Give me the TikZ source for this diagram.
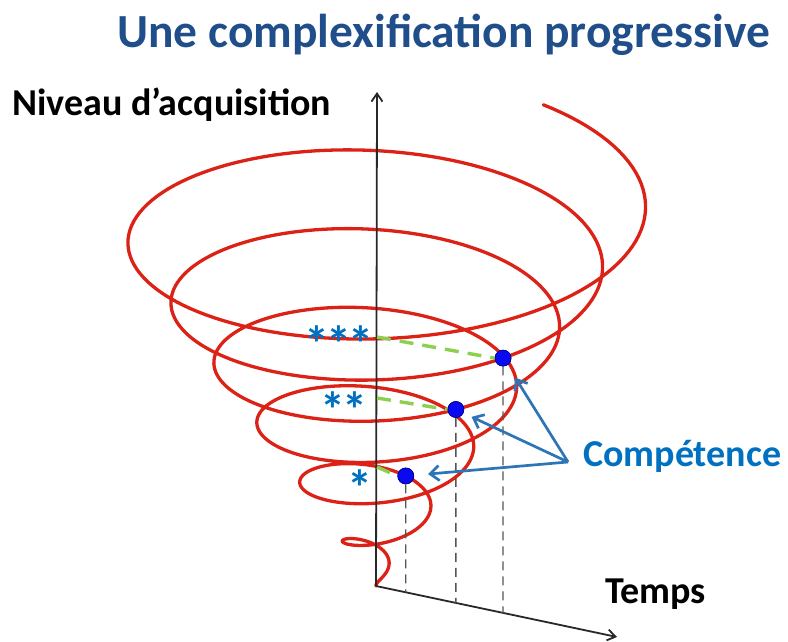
\documentclass[tikz,border=0pt]{standalone}
\usepackage{fontspec}
\setmainfont{Carlito}
\usetikzlibrary{arrows.meta,calc}
\definecolor{titleblue}{RGB}{31,78,138}
\definecolor{compblue}{RGB}{0,112,192}
\definecolor{arrowblue}{RGB}{46,117,182}
\definecolor{spiralred}{RGB}{220,34,22}
\definecolor{dashgreen}{RGB}{140,208,80}
\definecolor{dotblue}{RGB}{10,10,240}
\definecolor{axisgray}{RGB}{40,40,40}
\definecolor{guidegray}{RGB}{85,85,85}
\begin{document}
\begin{tikzpicture}[x=1pt,y=-1pt,
  declare function={RA(\u)=248+43*\u; RH(\u)=240-60*\u;
    SX(\u)=376+RA(\u)*cos(360*\u+180);
    SY(\u)=RH(\u)-0.44*RA(\u)*sin(360*\u+180);},
  spiral/.style={draw=spiralred,line width=3.3pt,line join=round,line cap=round},
  axisline/.style={draw=axisgray,line width=1.8pt,-{Straight Barb[length=8pt,width=11pt,line width=1.8pt]}},
  guide/.style={draw=guidegray,line width=1.4pt,dash pattern=on 9pt off 6pt},
  levelline/.style={draw=dashgreen,line width=3.4pt,dash pattern=on 14pt off 9pt},
  compdot/.style={circle,fill=dotblue,draw=blue!55!black,line width=0.6pt,minimum size=16pt,inner sep=0pt},
  comparrow/.style={draw=arrowblue,line width=2.7pt,-{Straight Barb[length=9pt,width=15pt,line width=2.7pt]}},
  stars/.style={text=compblue,font=\bfseries\fontsize{50}{50}\selectfont,inner sep=0pt,anchor=base east},
  axislabel/.style={font=\bfseries\fontsize{38}{38}\selectfont,inner sep=0pt,anchor=base west}
]
\useasboundingbox (0,0) rectangle (788,642);
\fill[white] (0,0) rectangle (788,642);

% spiral
\draw[spiral] plot[domain=-5.767:0.65, samples=900, variable=\u] ({SX(\u)},{SY(\u)});

% axes
\coordinate (O) at (376,586);
\coordinate (Y) at (377,92);
\coordinate (T) at (617,637);
\draw[axisline] (O) -- (Y);
\draw[axisline] (O) -- (T);

% competence dots
\node[compdot] (d3) at ({SX(-0.652)},{SY(-0.652)}) {};
\node[compdot] (d2) at ({SX(-1.675)},{SY(-1.675)}) {};
\node[compdot] (d1) at ({SX(-4.33)},{SY(-4.33)}) {};

% guides down to time axis
\coordinate (g3) at ($(O)!{(SX(-0.652)-376)/241}!(T)$);
\coordinate (g2) at ($(O)!{(SX(-1.675)-376)/241}!(T)$);
\coordinate (g1) at ($(O)!{(SX(-4.33)-376)/241}!(T)$);
\draw[guide] (d3.south) -- (g3);
\draw[guide] (d2.south) -- (g2);
\draw[guide] (d1.south) -- (g1);

% level lines
\coordinate (l3) at (377,337);
\coordinate (l2) at (377,398);
\coordinate (l1) at (377,467);
\draw[levelline] (l3) -- (d3.west);
\draw[levelline] (l2) -- (d2.west);
\draw[levelline] (l1) -- (d1.west);
\node[compdot] at (d3) {};
\node[compdot] at (d2) {};
\node[compdot] at (d1) {};

% stars
\node[stars] (s3) at (374,361) {*\kern-2.5pt*\kern-2.5pt*};
\node[stars] (s2) at (368,427) {*\kern-2.5pt*};
\node[stars] (s1) at (373,505) {*};

% arrows to dots
\coordinate (C0) at (568,462);
\draw[comparrow, shorten >=15pt] (C0) -- (d3);
\draw[comparrow, shorten >=9pt] (C0) -- (d2);
\draw[comparrow, shorten >=14pt] (C0) -- (d1);

% texts
\node[anchor=base west, text=titleblue, font=\bfseries\fontsize{47.5}{47.5}\selectfont, inner sep=0pt] (title) at (117,48) {Une complexification progressive};
\node[axislabel] (ylab) at (12,116) {Niveau d’acquisition};
\node[axislabel] (tlab) at (605,603) {Temps};
\node[axislabel, text=compblue] (comp) at (583,466) {Compétence};
\end{tikzpicture}
\end{document}
